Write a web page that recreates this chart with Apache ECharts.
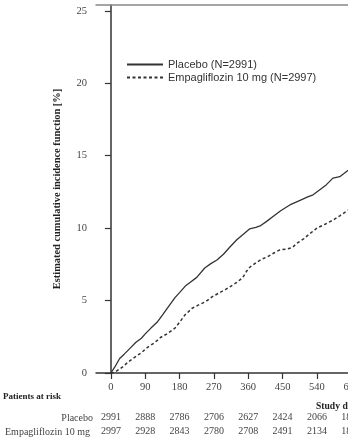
<!DOCTYPE html>
<html>
<head>
<meta charset="utf-8">
<script src="https://cdn.jsdelivr.net/npm/echarts@6/dist/echarts.min.js"></script>
<style>
html,body{margin:0;padding:0;background:#fff;}
#wrap{width:348px;height:442px;overflow:hidden;}
#c{width:380px;height:442px;}
</style>
</head>
<body>
<div id="wrap"><div id="c"></div></div>
<script>
// ---- data ----
var xTicks = [0, 90, 180, 270, 360, 450, 540, 630];
var yTicks = [0, 5, 10, 15, 20, 25];
var placeboRisk = [2991, 2888, 2786, 2706, 2627, 2424, 2066, 1827];
var empaRisk = [2997, 2928, 2843, 2780, 2708, 2491, 2134, 1858];
var placeboDays = [0,10,23,35,50,65,80,90,105,121,135,150,168,180,195,210,225,246,262,278,295,312,330,348,364,380,391,410,425,445,469,490,516,530,545,565,582,600,610,622];
var placeboPct  = [0,0.4,1.0,1.3,1.7,2.1,2.4,2.7,3.1,3.5,4.0,4.55,5.2,5.55,6.0,6.3,6.6,7.25,7.55,7.8,8.2,8.7,9.2,9.6,9.95,10.05,10.15,10.5,10.8,11.2,11.6,11.85,12.15,12.3,12.6,13.0,13.45,13.55,13.75,14.0];
var empaDays = [0,10,30,45,63,80,95,115,130,150,168,180,194,212,230,250,265,285,300,312,330,346,355,364,380,395,409,425,443,460,475,490,505,516,540,560,582,600,622];
var empaPct  = [0,0.05,0.4,0.75,1.1,1.4,1.75,2.1,2.45,2.75,3.1,3.5,4.0,4.45,4.7,4.95,5.25,5.55,5.75,5.95,6.25,6.6,7.0,7.3,7.6,7.85,8.0,8.25,8.5,8.55,8.65,9.0,9.25,9.5,10.0,10.25,10.55,10.85,11.25];
var seriesNames = ['Placebo (N=2991)', 'Empagliflozin 10 mg (N=2997)'];
var rowNames = ['Placebo', 'Empagliflozin 10 mg'];

function pairs(xs, ys){ return xs.map(function(x,i){ return [x, ys[i]]; }); }
function riskFmt(arr){ return function(v){ var i = xTicks.indexOf(v); return i >= 0 ? String(arr[i]) : ''; }; }

var serif = '"Liberation Serif", "DejaVu Serif", serif';
var XMIN = -39, XMAX = 660;

function riskAxis(arr, off){
  return {
    type: 'value', gridIndex: 0, position: 'bottom', offset: off,
    min: XMIN, max: XMAX,
    axisLine: {show: false}, axisTick: {show: false}, splitLine: {show: false},
    axisLabel: {customValues: xTicks, formatter: riskFmt(arr), margin: 8,
      fontFamily: serif, fontSize: 10, color: '#444'}
  };
}

var chart = echarts.init(document.getElementById('c'), null, {renderer: 'canvas'});
chart.setOption({
  animation: false,
  backgroundColor: '#fff',
  grid: {left: 96, right: 17.3, top: 5, bottom: 69, show: false,
    containLabel: false, outerBoundsMode: 'none'},
  legend: {
    left: 121, top: 54, orient: 'vertical', itemWidth: 36, itemHeight: 10, itemGap: 2,
    itemStyle: {opacity: 0},
    textStyle: {fontFamily: '"Liberation Sans", Arial, sans-serif', fontSize: 11, color: '#333'},
    data: seriesNames
  },
  xAxis: [
    {
      type: 'value', min: XMIN, max: XMAX,
      axisLine: {lineStyle: {color: '#333', width: 1.5}},
      axisTick: {customValues: xTicks, length: 6, inside: false, lineStyle: {color: '#333', width: 1.2}},
      splitLine: {show: false},
      axisLabel: {customValues: xTicks, margin: 9, fontFamily: serif, fontSize: 10.5, color: '#444'}
    },
    riskAxis(placeboRisk, 31),
    riskAxis(empaRisk, 45),
    {
      type: 'value', position: 'top', min: XMIN, max: XMAX,
      axisLine: {show: true, lineStyle: {color: '#888', width: 1.5}},
      axisTick: {show: false}, axisLabel: {show: false}, splitLine: {show: false}
    }
  ],
  yAxis: {
    type: 'value', min: 0, max: 25.4,
    name: 'Estimated cumulative incidence function [%]',
    nameLocation: 'middle', nameGap: 34,
    nameTextStyle: {fontFamily: serif, fontSize: 10.4, fontWeight: 'bold', color: '#222'},
    axisLine: {show: true, lineStyle: {color: '#333', width: 1.5}},
    axisTick: {show: true, customValues: yTicks, length: 6, inside: false, lineStyle: {color: '#333', width: 1.2}},
    splitLine: {show: false},
    axisLabel: {customValues: yTicks, margin: 9, fontFamily: serif, fontSize: 10.5, color: '#444'}
  },
  graphic: [
    {type: 'text', x: 3, y: 397, style: {text: 'Patients at risk', font: 'bold 9px ' + serif, fill: '#222', verticalAlign: 'middle'}},
    {type: 'text', x: 316, y: 407, style: {text: 'Study day', font: 'bold 9.6px ' + serif, fill: '#222', verticalAlign: 'middle'}},
    {type: 'text', x: 93, y: 418, style: {text: rowNames[0], font: '10px ' + serif, fill: '#444', align: 'right', verticalAlign: 'middle'}},
    {type: 'text', x: 90, y: 432, style: {text: rowNames[1], font: '10px ' + serif, fill: '#444', align: 'right', verticalAlign: 'middle'}}
  ],
  series: [
    {name: seriesNames[0], type: 'line', data: pairs(placeboDays, placeboPct), showSymbol: false, symbol: 'none',
      lineStyle: {color: '#333', width: 1.3, type: 'solid'}, itemStyle: {color: '#333'}},
    {name: seriesNames[1], type: 'line', data: pairs(empaDays, empaPct), showSymbol: false, symbol: 'none',
      lineStyle: {color: '#333', width: 1.5, type: [3, 2.5]}, itemStyle: {color: '#333'}}
  ]
});
</script>
</body>
</html>
